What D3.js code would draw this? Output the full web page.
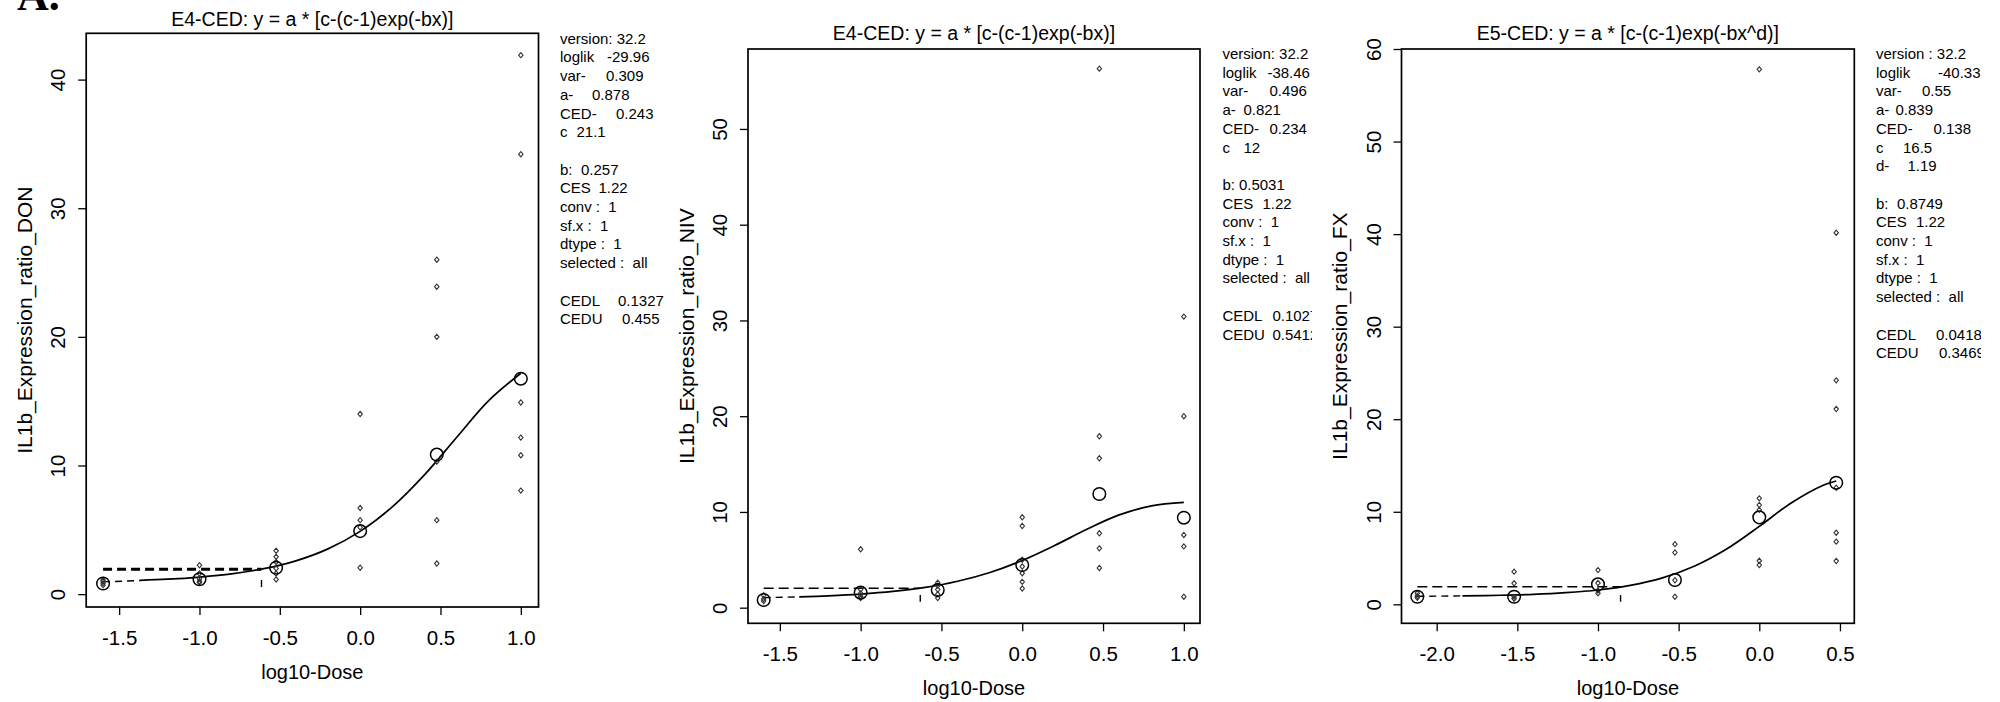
<!DOCTYPE html>
<html><head><meta charset="utf-8">
<script src="https://cdn.jsdelivr.net/npm/d3@7"></script>
<style>
body{margin:0;background:#fff;}
svg{display:block;}
text{font-family:"Liberation Sans",Arial,Helvetica,sans-serif;fill:#000;}
</style>
</head><body>
<svg id="chart" width="2000" height="702"></svg>
<script>
// ---------------- DATA ----------------
const panelLetter = "A.";
const titles = ["E4-CED: y = a * [c-(c-1)exp(-bx)]", "E4-CED: y = a * [c-(c-1)exp(-bx)]", "E5-CED: y = a * [c-(c-1)exp(-bx^d)]"];
const yTitles = ["IL1b_Expression_ratio_DON", "IL1b_Expression_ratio_NIV", "IL1b_Expression_ratio_FX"];
const xTitle = "log10-Dose";

const xTicks1 = [-1.5, -1.0, -0.5, 0.0, 0.5, 1.0];
const xTicks2 = [-1.5, -1.0, -0.5, 0.0, 0.5, 1.0];
const xTicks3 = [-2.0, -1.5, -1.0, -0.5, 0.0, 0.5];
const yTicks1 = [0, 10, 20, 30, 40];
const yTicks2 = [0, 10, 20, 30, 40, 50];
const yTicks3 = [0, 10, 20, 30, 40, 50, 60];

// log10 dose groups
const doses1 = [-1.6, -1.0, -0.523, 0.0, 0.477, 1.0];
const doses2 = [-1.6, -1.0, -0.523, 0.0, 0.477, 1.0];
const doses3 = [-2.12, -1.52, -1.0, -0.523, 0.0, 0.477];

// individual observations per dose group
const obs1 = [[0.7, 0.85, 1.0, 1.1], [2.25, 1.6, 1.2, 1.0, 0.9], [3.37, 2.9, 2.5, 2.0, 1.6, 1.14],
              [14.0, 6.7, 5.75, 5.2, 2.05], [26.0, 23.9, 20.0, 10.3, 5.75, 2.38], [41.9, 34.2, 14.9, 12.17, 10.8, 8.05]];
const obs2 = [[0.7, 0.9, 1.3], [6.1, 1.9, 1.5, 1.2, 1.0], [2.6, 2.3, 1.9, 1.4, 1.0],
              [9.44, 8.53, 5.0, 4.3, 3.6, 2.7, 2.0], [56.3, 17.9, 15.6, 7.77, 6.2, 4.15], [30.4, 20.0, 7.6, 6.4, 1.15]];
const obs3 = [[0.7, 0.9, 1.2], [3.53, 2.27, 0.8, 0.6], [3.7, 2.3, 1.5, 1.2],
              [6.5, 5.6, 2.6, 0.82], [57.8, 11.45, 10.73, 10.2, 4.7, 4.25], [40.15, 24.2, 21.1, 12.6, 7.74, 6.77, 4.68]];

// group means (open circles)
const means1 = [0.83, 1.16, 2.05, 4.9, 10.85, 16.75];
const means2 = [0.8, 1.57, 1.85, 4.46, 11.87, 9.4];
const means3 = [0.82, 0.82, 2.16, 2.63, 9.4, 13.14];

// fitted curves: dashed start + solid part
const curveDashX1 = [-1.6, -1.37];  const curveDashY1 = [0.95, 1.06];
const curveX1 = [-1.37, -1.2, -1.0, -0.8, -0.6, -0.4, -0.2, 0.0, 0.2, 0.4, 0.6, 0.8, 1.0];
const curveY1 = [1.07, 1.16, 1.33, 1.58, 1.98, 2.59, 3.52, 4.88, 6.78, 9.27, 12.18, 15.04, 17.17];
const curveDashX2 = [-1.6, -1.38];  const curveDashY2 = [1.05, 1.13];
const curveX2 = [-1.38, -1.2, -1.0, -0.8, -0.6, -0.4, -0.2, 0.0, 0.2, 0.4, 0.6, 0.8, 1.0];
const curveY2 = [1.13, 1.24, 1.42, 1.70, 2.12, 2.76, 3.68, 4.93, 6.49, 8.19, 9.69, 10.63, 10.99];
const curveDashX3 = [-2.12, -1.84]; const curveDashY3 = [0.87, 0.91];
const curveX3 = [-1.84, -1.6, -1.4, -1.2, -1.0, -0.8, -0.6, -0.4, -0.2, 0.0, 0.2, 0.4, 0.477];
const curveY3 = [0.91, 0.98, 1.08, 1.26, 1.55, 2.05, 2.86, 4.14, 6.00, 8.42, 10.98, 12.90, 13.33];

// CES level line and CED marker
const cesLevel = [1.94, 2.03, 1.9];
const cedLog = [-0.614, -0.631, -0.86];
const cedTickTop = [1.1, 1.32, 1.0];
const cedTickBottom = [0.55, 0.63, 0.28];

// side information text
const infoLabels1 = ["version: 32.2", "loglik", "var-", "a-", "CED-", "c", "", "b:", "CES", "conv :  1", "sf.x :  1", "dtype :  1", "selected :  all", "", "CEDL", "CEDU"];
const infoValues1 = ["", "-29.96", "0.309", "0.878", "0.243", "21.1", "", "0.257", "1.22", "", "", "", "", "", "0.1327", "0.455"];
const infoLabels2 = ["version: 32.2", "loglik", "var-", "a-", "CED-", "c", "", "b:", "CES", "conv :  1", "sf.x :  1", "dtype :  1", "selected :  all", "", "CEDL", "CEDU"];
const infoValues2 = ["", "-38.46", "0.496", "0.821", "0.234", "12", "", "0.5031", "1.22", "", "", "", "", "", "0.1027", "0.5412"];
const infoLabels3 = ["version : 32.2", "loglik", "var-", "a-", "CED-", "c", "d-", "", "b:", "CES", "conv :  1", "sf.x :  1", "dtype :  1", "selected :  all", "", "CEDL", "CEDU"];
const infoValues3 = ["", "-40.33", "0.55", "0.839", "0.138", "16.5", "1.19", "", "0.8749", "1.22", "", "", "", "", "", "0.0418", "0.3469"];

// ---------------- LAYOUT ----------------
const layouts = [
  {box:[86.2, 33.3, 538.5, 607], xDom:[-1.705, 1.11], yDom:[-1.0, 43.6], clip:[0, 664],
   textX:560, textY:43.7, titleY:26, valOff:[0,47,46,32,56,16.5,0,21,38.5,0,0,0,0,0,58,62], cesW:3},
  {box:[748, 49, 1200, 623.3], xDom:[-1.697, 1.10], yDom:[-1.63, 58.35], clip:[664, 1312],
   textX:1222.4, textY:59, titleY:40, valOff:[0,45,47,21,47,21,0,16.5,40,0,0,0,0,0,50,50], cesW:1.6},
  {box:[1401.5, 49, 1854.3, 623.3], xDom:[-2.218, 0.589], yDom:[-2.05, 60], clip:[1320, 1981],
   textX:1876, textY:59, titleY:40, valOff:[0,62,46,19.5,57.5,27,31.5,0,21,40,0,0,0,0,0,60,63], cesW:1.6}
];

const panels = [
  {title:titles[0], yTitle:yTitles[0], xTicks:xTicks1, yTicks:yTicks1, doses:doses1, obs:obs1, means:means1,
   dX:curveDashX1, dY:curveDashY1, cX:curveX1, cY:curveY1, labels:infoLabels1, values:infoValues1},
  {title:titles[1], yTitle:yTitles[1], xTicks:xTicks2, yTicks:yTicks2, doses:doses2, obs:obs2, means:means2,
   dX:curveDashX2, dY:curveDashY2, cX:curveX2, cY:curveY2, labels:infoLabels2, values:infoValues2},
  {title:titles[2], yTitle:yTitles[2], xTicks:xTicks3, yTicks:yTicks3, doses:doses3, obs:obs3, means:means3,
   dX:curveDashX3, dY:curveDashY3, cX:curveX3, cY:curveY3, labels:infoLabels3, values:infoValues3}
];

const svg = d3.select("#chart");
const defs = svg.append("defs");

svg.append("text").attr("x", 17).attr("y", 10)
  .style("font-family", "'Liberation Serif','Times New Roman',serif")
  .style("font-weight", "bold").style("font-size", "44px").text(panelLetter);

const lineH = 18.7;

panels.forEach((p, i) => {
  const L = layouts[i];
  const [bx0, by0, bx1, by1] = L.box;
  const x = d3.scaleLinear().domain(L.xDom).range([bx0, bx1]);
  const y = d3.scaleLinear().domain(L.yDom).range([by1, by0]);

  defs.append("clipPath").attr("id", "clip" + i)
    .append("rect").attr("x", L.clip[0]).attr("y", 0).attr("width", L.clip[1] - L.clip[0]).attr("height", 702);
  const g = svg.append("g").attr("clip-path", `url(#clip${i})`);

  // title
  g.append("text").attr("x", (bx0 + bx1) / 2).attr("y", L.titleY).attr("text-anchor", "middle")
    .style("font-size", "19.5px").text(p.title);

  // x axis
  const xa = g.append("g").attr("transform", `translate(0,${by1})`)
    .call(d3.axisBottom(x).tickValues(p.xTicks).tickSize(8).tickFormat(d => d.toFixed(1)));
  xa.select(".domain").remove();
  xa.selectAll("line").attr("stroke", "#000").attr("stroke-width", 1.3);
  xa.selectAll("text").attr("y", 38).attr("dy", null).style("font-size", "20.5px")
    .style("font-family", "'Liberation Sans',Arial,sans-serif").attr("fill", "#000");

  // y axis
  const ya = g.append("g").attr("transform", `translate(${bx0},0)`)
    .call(d3.axisLeft(y).tickValues(p.yTicks).tickSize(8).tickFormat(d => String(d)));
  ya.select(".domain").remove();
  ya.selectAll("line").attr("stroke", "#000").attr("stroke-width", 1.3);
  ya.selectAll("text").attr("x", null).attr("dy", null).attr("text-anchor", "middle")
    .attr("transform", "translate(-21,0) rotate(-90)").style("font-size", "20.5px")
    .style("font-family", "'Liberation Sans',Arial,sans-serif").attr("fill", "#000");

  // axis titles
  g.append("text").attr("x", (bx0 + bx1) / 2).attr("y", by1 + 72).attr("text-anchor", "middle")
    .style("font-size", "20px").text(xTitle);
  g.append("text").attr("transform", `translate(${bx0 - 54.5},${(by0 + by1) / 2}) rotate(-90)`)
    .attr("text-anchor", "middle").style("font-size", "21px").text(p.yTitle);

  // box
  g.append("rect").attr("x", bx0).attr("y", by0).attr("width", bx1 - bx0).attr("height", by1 - by0)
    .attr("fill", "none").attr("stroke", "#000").attr("stroke-width", 1.7);

  // CES horizontal dashed line & CED tick
  g.append("line").attr("x1", x(p.doses[0])).attr("x2", x(cedLog[i]))
    .attr("y1", y(cesLevel[i])).attr("y2", y(cesLevel[i]))
    .attr("stroke", "#000").attr("stroke-width", L.cesW).attr("stroke-dasharray", i === 0 ? "9,5" : "10,5");
  g.append("line").attr("x1", x(cedLog[i])).attr("x2", x(cedLog[i]))
    .attr("y1", y(cedTickTop[i])).attr("y2", y(cedTickBottom[i]))
    .attr("stroke", "#000").attr("stroke-width", 1.4);

  // fitted curve
  const line = d3.line().x(d => x(d[0])).y(d => y(d[1])).curve(d3.curveCatmullRom);
  g.append("path").datum(p.dX.map((v, k) => [v, p.dY[k]])).attr("d", line)
    .attr("fill", "none").attr("stroke", "#000").attr("stroke-width", 1.4).attr("stroke-dasharray", "7,5");
  g.append("path").datum(p.cX.map((v, k) => [v, p.cY[k]])).attr("d", line)
    .attr("fill", "none").attr("stroke", "#000").attr("stroke-width", 1.7);

  // observations (small diamonds)
  const pts = [];
  p.obs.forEach((arr, k) => arr.forEach(v => pts.push([p.doses[k], v])));
  const diamond = "M0,-2.6L2.2,0L0,2.6L-2.2,0Z";
  g.selectAll(".pt" + i).data(pts).enter().append("path")
    .attr("transform", d => `translate(${x(d[0])},${y(d[1])})`).attr("d", diamond)
    .attr("fill", "none").attr("stroke", "#333").attr("stroke-width", 1.1);

  // means (open circles)
  g.selectAll(".mn" + i).data(p.means).enter().append("circle")
    .attr("cx", (d, k) => x(p.doses[k])).attr("cy", d => y(d)).attr("r", 6.3)
    .attr("fill", "none").attr("stroke", "#000").attr("stroke-width", 1.5);

  // info text
  const tg = g.append("g").style("font-size", "15px");
  p.labels.forEach((lab, k) => {
    if (lab) tg.append("text").attr("x", L.textX).attr("y", L.textY + k * lineH).attr("xml:space", "preserve")
      .style("white-space", "pre").text(lab);
    if (p.values[k]) tg.append("text").attr("x", L.textX + L.valOff[k]).attr("y", L.textY + k * lineH).text(p.values[k]);
  });
});
</script>
</body></html>
